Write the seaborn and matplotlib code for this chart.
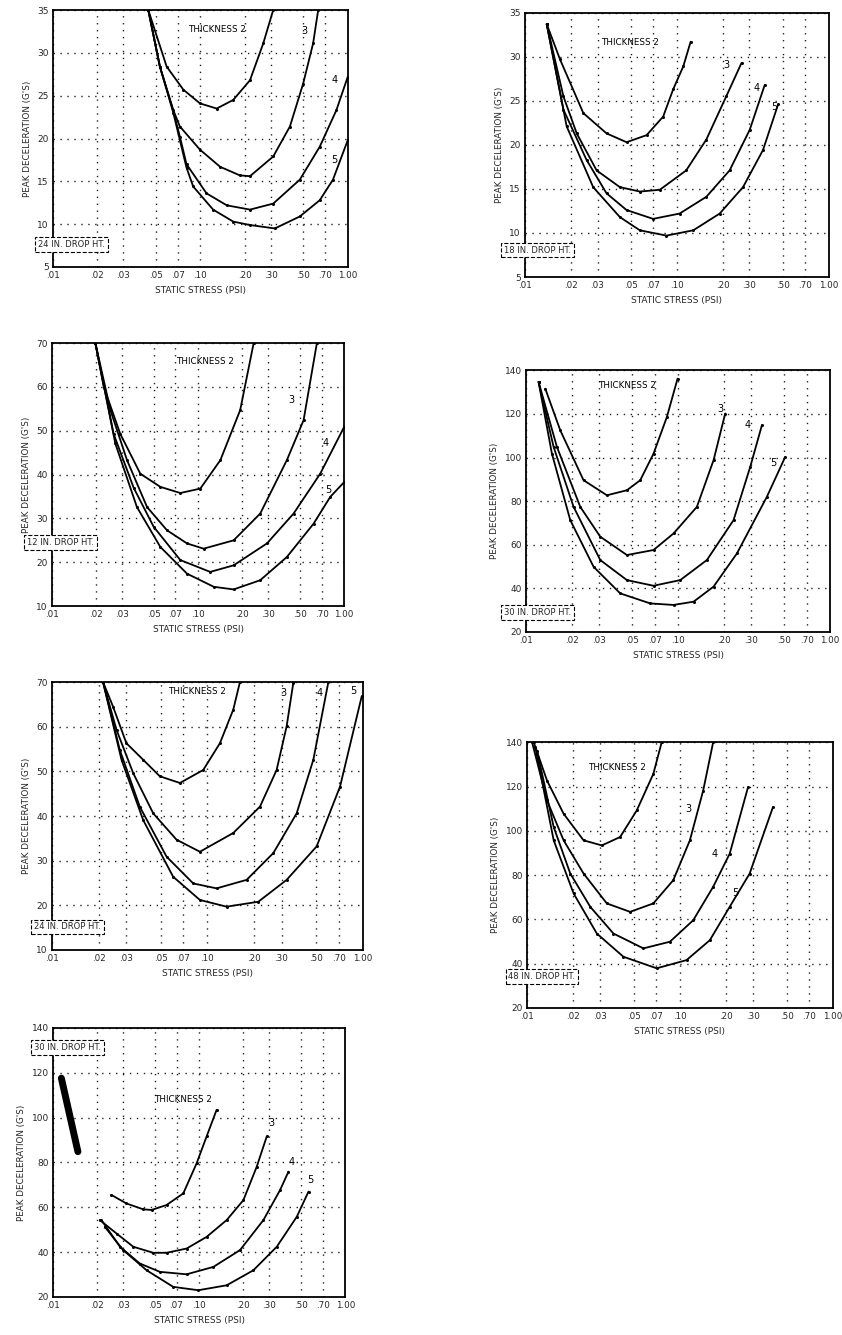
import matplotlib
matplotlib.use("Agg")
import matplotlib.pyplot as plt
import pandas as pd
import seaborn as sns

# ---------------- shared axis data ----------------
X_TICKS = [0.01, 0.02, 0.03, 0.05, 0.07, 0.1, 0.2, 0.3, 0.5, 0.7, 1.0]
X_TICK_LABELS = [".01", ".02", ".03", ".05", ".07", ".10", ".20", ".30", ".50", ".70", "1.00"]
THICKNESS = [2, 3, 4, 5]
X_LABEL = "STATIC STRESS (PSI)"
Y_LABEL = "PEAK DECELERATION (G'S)"

# ---------------- panel L1 (top left) ----------------
L1_Y_TICKS = [5, 10, 15, 20, 25, 30, 35]
L1_BOX = "24 IN. DROP HT."
L1_T2_X = [0.0443, 0.059, 0.0766, 0.0993, 0.129, 0.167, 0.217, 0.267, 0.312]
L1_T2_Y = [35, 28.4, 25.7, 24.1, 23.5, 24.5, 26.8, 31.1, 35]
L1_T3_X = [0.0443, 0.0531, 0.0655, 0.0726, 0.0993, 0.136, 0.185, 0.217, 0.312, 0.405, 0.498, 0.582, 0.63]
L1_T3_Y = [35, 28.4, 23.3, 21.4, 18.7, 16.7, 15.7, 15.6, 17.9, 21.4, 26.4, 31.1, 35]
L1_T4_X = [0.0443, 0.0531, 0.0655, 0.0726, 0.0805, 0.110, 0.151, 0.217, 0.312, 0.473, 0.646, 0.837, 1.0]
L1_T4_Y = [35, 28.4, 23.2, 20.2, 17.0, 13.6, 12.2, 11.7, 12.4, 15.2, 19.05, 23.3, 27.2]
L1_T5_X = [0.0443, 0.0531, 0.0655, 0.0805, 0.0893, 0.122, 0.167, 0.217, 0.32, 0.473, 0.646, 0.794, 1.0]
L1_T5_Y = [35, 28.4, 23.0, 16.6, 14.4, 11.7, 10.3, 9.9, 9.5, 10.9, 12.8, 15.2, 19.8]
L1_LABELS_X = [0.13, 0.51, 0.81, 0.81]
L1_LABELS_Y = [32.7, 32.5, 26.8, 17.5]

# ---------------- panel R1 (top right) ----------------
R1_Y_TICKS = [5, 10, 15, 20, 25, 30, 35]
R1_BOX = "18 IN. DROP HT."
R1_T2_X = [0.0139, 0.0170, 0.0242, 0.0344, 0.0466, 0.0631, 0.0811, 0.0944, 0.110, 0.123]
R1_T2_Y = [33.7, 29.7, 23.6, 21.3, 20.3, 21.1, 23.2, 26.3, 28.9, 31.7]
R1_T3_X = [0.0139, 0.0179, 0.0219, 0.0296, 0.0421, 0.0570, 0.0771, 0.115, 0.156, 0.211, 0.266]
R1_T3_Y = [33.7, 25.5, 21.3, 17.1, 15.2, 14.7, 14.9, 17.1, 20.6, 25.5, 29.3]
R1_T4_X = [0.0139, 0.0179, 0.0254, 0.0344, 0.0466, 0.0697, 0.104, 0.156, 0.222, 0.301, 0.378]
R1_T4_Y = [33.7, 24.0, 18.3, 14.5, 12.6, 11.6, 12.2, 14.1, 17.1, 21.7, 26.8]
R1_T5_X = [0.0139, 0.0188, 0.0281, 0.0421, 0.0570, 0.0853, 0.128, 0.191, 0.272, 0.368, 0.463]
R1_T5_Y = [33.7, 22.1, 15.2, 11.8, 10.3, 9.7, 10.3, 12.2, 15.2, 19.4, 24.6]
R1_LABELS_X = [0.049, 0.211, 0.333, 0.434]
R1_LABELS_Y = [31.6, 29.1, 26.5, 24.3]

# ---------------- panel L2 ----------------
L2_Y_TICKS = [10, 20, 30, 40, 50, 60, 70]
L2_BOX = "12 IN. DROP HT."
L2_T2_X = [0.0198, 0.0226, 0.0293, 0.0402, 0.0551, 0.0755, 0.1035, 0.142, 0.194, 0.240]
L2_T2_Y = [70, 60.0, 49.3, 40.2, 37.2, 35.8, 36.8, 43.3, 54.7, 70]
L2_T3_X = [0.0198, 0.0251, 0.0326, 0.0447, 0.0612, 0.0839, 0.109, 0.175, 0.266, 0.405, 0.527, 0.650]
L2_T3_Y = [70, 54.7, 43.3, 32.6, 27.3, 24.3, 23.1, 25.0, 31.1, 43.3, 52.4, 70]
L2_T4_X = [0.0198, 0.0264, 0.0362, 0.0496, 0.0755, 0.121, 0.175, 0.296, 0.450, 0.685, 1.0]
L2_T4_Y = [70, 49.3, 37.0, 28.1, 20.5, 17.8, 19.3, 24.3, 31.1, 40.2, 50.9]
L2_T5_X = [0.0198, 0.0271, 0.0381, 0.0551, 0.0839, 0.128, 0.175, 0.266, 0.405, 0.617, 0.802, 1.0]
L2_T5_Y = [70, 47.1, 32.6, 23.5, 17.4, 14.4, 13.8, 15.9, 21.2, 28.8, 34.9, 38.3]
L2_LABELS_X = [0.112, 0.438, 0.741, 0.78]
L2_LABELS_Y = [65.7, 57.0, 47.1, 36.4]

# ---------------- panel R2 ----------------
R2_Y_TICKS = [20, 40, 60, 80, 100, 120, 140]
R2_BOX = "30 IN. DROP HT."
R2_T2_X = [0.01334, 0.01674, 0.02382, 0.03395, 0.04594, 0.05623, 0.0688, 0.0842, 0.0990]
R2_T2_Y = [131.6, 112.5, 89.6, 82.7, 85.0, 89.6, 101.8, 118.6, 136.2]
R2_T3_X = [0.01205, 0.01591, 0.02266, 0.03068, 0.04594, 0.0688, 0.0932, 0.1327, 0.1708, 0.2038]
R2_T3_Y = [134.7, 104.9, 77.4, 63.7, 55.3, 57.6, 65.2, 77.4, 98.8, 120.2]
R2_T4_X = [0.01205, 0.01513, 0.02048, 0.03068, 0.04594, 0.0688, 0.1031, 0.1544, 0.2312, 0.2976, 0.3552]
R2_T4_Y = [134.7, 104.9, 77.4, 53.0, 43.8, 41.2, 43.8, 53.0, 71.3, 95.7, 114.8]
R2_T5_X = [0.01205, 0.01475, 0.01948, 0.02773, 0.04152, 0.06545, 0.0932, 0.1262, 0.1708, 0.2432, 0.3831, 0.5058]
R2_T5_Y = [134.7, 101.8, 71.3, 49.9, 37.7, 33.1, 32.4, 33.9, 40.8, 56.0, 82.0, 100.3]
R2_LABELS_X = [0.0459, 0.189, 0.285, 0.424]
R2_LABELS_Y = [133.1, 122.4, 114.8, 97.3]

# ---------------- panel L3 ----------------
L3_Y_TICKS = [10, 20, 30, 40, 50, 60, 70]
L3_BOX = "24 IN. DROP HT."
L3_T2_X = [0.0213, 0.0247, 0.0301, 0.0386, 0.0494, 0.0665, 0.094, 0.1204, 0.1467, 0.162]
L3_T2_Y = [70, 64.5, 56.3, 52.6, 48.9, 47.4, 50.3, 56.3, 63.8, 70]
L3_T3_X = [0.0213, 0.0260, 0.0333, 0.0448, 0.0633, 0.0895, 0.1467, 0.218, 0.279, 0.3237, 0.3573]
L3_T3_Y = [70, 59.3, 49.6, 40.6, 34.7, 32.0, 36.2, 42.1, 50.3, 60.1, 69.8]
L3_T4_X = [0.0213, 0.0273, 0.0367, 0.0546, 0.0811, 0.1146, 0.1788, 0.2657, 0.3755, 0.4808, 0.6008]
L3_T4_Y = [70, 54.8, 42.1, 30.9, 24.9, 23.8, 25.7, 31.7, 40.6, 52.6, 70]
L3_T5_X = [0.0213, 0.0280, 0.0386, 0.0602, 0.0895, 0.1329, 0.2127, 0.3237, 0.5052, 0.7144, 0.9851]
L3_T5_Y = [70, 52.6, 39.1, 26.4, 21.2, 19.7, 20.8, 25.7, 33.2, 46.6, 66.8]
L3_LABELS_X = [0.0851, 0.308, 0.531, 0.87]
L3_LABELS_Y = [67.9, 67.5, 67.5, 67.9]

# ---------------- panel R3 ----------------
R3_Y_TICKS = [20, 40, 60, 80, 100, 120, 140]
R3_BOX = "48 IN. DROP HT."
R3_T2_X = [0.01105, 0.0135, 0.01734, 0.02342, 0.03084, 0.04062, 0.05218, 0.06699, 0.07596]
R3_T2_Y = [140, 122.7, 107.7, 95.7, 93.4, 97.2, 109.2, 125.7, 140]
R3_T3_X = [0.01078, 0.0135, 0.01734, 0.02342, 0.03324, 0.04721, 0.06699, 0.09048, 0.1162, 0.142, 0.165]
R3_T3_Y = [140, 113.7, 95.7, 80.7, 67.2, 63.4, 67.2, 77.7, 95.7, 118.2, 140]
R3_T4_X = [0.01162, 0.01493, 0.01917, 0.02588, 0.03674, 0.05768, 0.08605, 0.1222, 0.165, 0.2118, 0.279]
R3_T4_Y = [136.2, 101.7, 80.7, 65.7, 53.6, 46.9, 49.9, 59.6, 74.7, 89.7, 119.7]
R3_T5_X = [0.01133, 0.01493, 0.02015, 0.0286, 0.04271, 0.07046, 0.1105, 0.157, 0.2118, 0.286, 0.4062]
R3_T5_Y = [137.7, 95.7, 71.7, 53.6, 43.1, 37.9, 41.6, 50.6, 65.7, 80.7, 110.7]
R3_LABELS_X = [0.0386, 0.113, 0.169, 0.229]
R3_LABELS_Y = [128.7, 110.0, 89.7, 71.7]

# ---------------- panel L4 (bottom left) ----------------
L4_Y_TICKS = [20, 40, 60, 80, 100, 120, 140]
L4_BOX = "30 IN. DROP HT."
L4_MERGED_X = [0.0114, 0.0148]
L4_MERGED_Y = [117.6, 84.8]
L4_T2_X = [0.0251, 0.0318, 0.0414, 0.0472, 0.0598, 0.0779, 0.0961, 0.1125, 0.1318]
L4_T2_Y = [65.5, 61.7, 59.1, 58.8, 61.0, 66.2, 79.6, 91.6, 103.5]
L4_T3_X = [0.0209, 0.0272, 0.0354, 0.0485, 0.0598, 0.0821, 0.1125, 0.1544, 0.2009, 0.2479, 0.2903]
L4_T3_Y = [54.3, 48.3, 42.4, 39.7, 39.7, 41.6, 46.8, 54.3, 63.2, 78.1, 91.6]
L4_T4_X = [0.02145, 0.0287, 0.0393, 0.0539, 0.0821, 0.1251, 0.1905, 0.2754, 0.3583, 0.4088]
L4_T4_Y = [54.3, 42.4, 34.9, 31.2, 30.1, 33.4, 40.9, 54.3, 67.7, 75.9]
L4_T5_X = [0.0226, 0.0302, 0.0437, 0.0665, 0.0987, 0.1544, 0.2351, 0.34, 0.4663, 0.5606]
L4_T5_Y = [51.3, 40.9, 31.9, 24.5, 23.0, 25.2, 31.9, 42.4, 55.8, 67.0]
L4_LABELS_X = [0.0778, 0.314, 0.43, 0.575]
L4_LABELS_Y = [108.0, 97.5, 80.4, 72.2]

# ---------------- figure ----------------
sns.set_theme(style="white")
plt.rcParams["font.family"] = ["DejaVu Sans"]

fig = plt.figure(figsize=(8.42, 13.35), dpi=100)
fig.patch.set_facecolor("white")

GRID_STYLE = dict(color="#222222", linestyle=(0, (1, 4)), linewidth=1.0)


def build_frame(curves):
    rows = []
    for t, (xs, ys) in zip(THICKNESS, curves):
        for i, (x, y) in enumerate(zip(xs, ys)):
            rows.append({"stress": x, "decel": y, "thickness": t, "order": i})
    return pd.DataFrame(rows)


def panel(rect, yticks, curves, labels_x, labels_y, box_text, box_pos):
    ax = fig.add_axes(rect)
    ax.set_xscale("log")
    df = build_frame(curves)
    sns.lineplot(data=df, x="stress", y="decel", hue="thickness", units="thickness",
                 estimator=None, sort=False, legend=False, ax=ax,
                 palette={t: "black" for t in THICKNESS},
                 linewidth=1.3, marker="o", markersize=2.2, markeredgewidth=0)
    ax.set_xlim(0.01, 1.0)
    ax.set_ylim(yticks[0], yticks[-1])
    ax.set_xticks(X_TICKS)
    ax.set_xticklabels(X_TICK_LABELS, fontsize=6.3)
    ax.xaxis.set_minor_locator(matplotlib.ticker.NullLocator())
    ax.set_yticks(yticks)
    ax.set_yticklabels([str(v) for v in yticks], fontsize=6.5)
    ax.tick_params(length=0, pad=3)
    ax.grid(True, which="major", **GRID_STYLE)
    for s in ax.spines.values():
        s.set_color("black")
        s.set_linewidth(1.3)
    ax.set_xlabel(X_LABEL, fontsize=6.5, labelpad=4)
    ax.set_ylabel(Y_LABEL, fontsize=6.3, labelpad=4)
    texts = ["THICKNESS 2", "3", "4", "5"]
    for txt, lx, ly in zip(texts, labels_x, labels_y):
        ax.text(lx, ly, txt, fontsize=6.3 if txt.startswith("T") else 7,
                ha="center", va="center", color="black")
    ax.text(box_pos[0], box_pos[1], box_text, transform=ax.transAxes,
            fontsize=6, ha="left", va="center", clip_on=False,
            bbox=dict(boxstyle="square,pad=0.35", fc="white", ec="black",
                      ls="--", lw=0.8))
    return ax


panel([0.063, 0.800, 0.350, 0.1925], L1_Y_TICKS,
      [(L1_T2_X, L1_T2_Y), (L1_T3_X, L1_T3_Y), (L1_T4_X, L1_T4_Y), (L1_T5_X, L1_T5_Y)],
      L1_LABELS_X, L1_LABELS_Y, L1_BOX, (-0.05, 0.086))
panel([0.6235, 0.7925, 0.361, 0.198], R1_Y_TICKS,
      [(R1_T2_X, R1_T2_Y), (R1_T3_X, R1_T3_Y), (R1_T4_X, R1_T4_Y), (R1_T5_X, R1_T5_Y)],
      R1_LABELS_X, R1_LABELS_Y, R1_BOX, (-0.068, 0.102))
panel([0.0618, 0.546, 0.347, 0.197], L2_Y_TICKS,
      [(L2_T2_X, L2_T2_Y), (L2_T3_X, L2_T3_Y), (L2_T4_X, L2_T4_Y), (L2_T5_X, L2_T5_Y)],
      L2_LABELS_X, L2_LABELS_Y, L2_BOX, (-0.085, 0.243))
panel([0.625, 0.5266, 0.361, 0.196], R2_Y_TICKS,
      [(R2_T2_X, R2_T2_Y), (R2_T3_X, R2_T3_Y), (R2_T4_X, R2_T4_Y), (R2_T5_X, R2_T5_Y)],
      R2_LABELS_X, R2_LABELS_Y, R2_BOX, (-0.072, 0.076))
panel([0.0618, 0.2884, 0.369, 0.2007], L3_Y_TICKS,
      [(L3_T2_X, L3_T2_Y), (L3_T3_X, L3_T3_Y), (L3_T4_X, L3_T4_Y), (L3_T5_X, L3_T5_Y)],
      L3_LABELS_X, L3_LABELS_Y, L3_BOX, (-0.057, 0.086))
panel([0.626, 0.245, 0.363, 0.199], R3_Y_TICKS,
      [(R3_T2_X, R3_T2_Y), (R3_T3_X, R3_T3_Y), (R3_T4_X, R3_T4_Y), (R3_T5_X, R3_T5_Y)],
      R3_LABELS_X, R3_LABELS_Y, R3_BOX, (-0.061, 0.117))
ax7 = panel([0.063, 0.0285, 0.347, 0.2015], L4_Y_TICKS,
            [(L4_T2_X, L4_T2_Y), (L4_T3_X, L4_T3_Y), (L4_T4_X, L4_T4_Y), (L4_T5_X, L4_T5_Y)],
            L4_LABELS_X, L4_LABELS_Y, L4_BOX, (-0.064, 0.926))
sns.lineplot(x=L4_MERGED_X, y=L4_MERGED_Y, color="black", linewidth=5, ax=ax7)

fig.savefig("out.png", dpi=100, facecolor="white")
